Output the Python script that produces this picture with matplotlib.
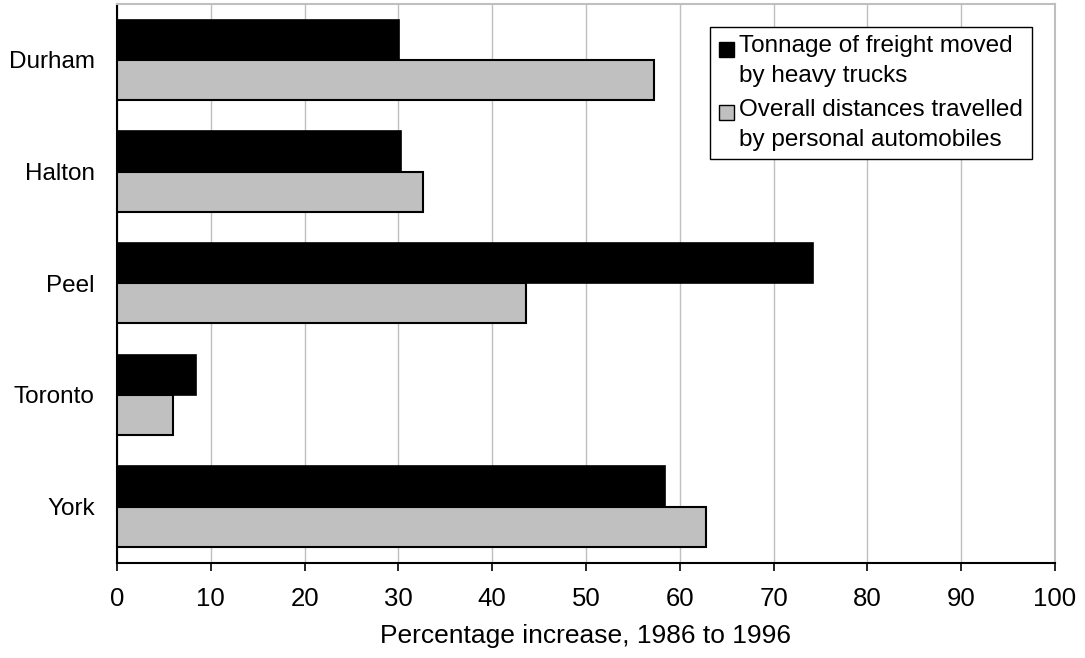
import matplotlib
matplotlib.use("Agg")
import matplotlib.pyplot as plt
from matplotlib.patches import Rectangle
from matplotlib.legend_handler import HandlerBase
import numpy as np

regions = ["Durham", "Halton", "Peel", "Toronto", "York"]
freight = [30.1, 30.3, 74.2, 8.4, 58.4]
autos = [57.3, 32.6, 43.6, 6.0, 62.8]
series_labels = ["Tonnage of freight moved\nby heavy trucks",
                 "Overall distances travelled\nby personal automobiles"]
xticks = [0, 10, 20, 30, 40, 50, 60, 70, 80, 90, 100]
xlabel = "Percentage increase, 1986 to 1996"

plt.rcParams['font.family'] = ['Liberation Sans', 'DejaVu Sans']


class TopSquareHandler(HandlerBase):
    """Legend key: small square aligned with the first text line."""
    def legend_artist(self, legend, orig_handle, fontsize, handlebox):
        size = 0.62 * fontsize
        x0 = -handlebox.xdescent
        y0 = handlebox.height - handlebox.ydescent - size - 0.05 * fontsize
        r = Rectangle((x0, y0), size, size,
                      facecolor=orig_handle.get_facecolor(),
                      edgecolor='black', linewidth=1.0,
                      transform=handlebox.get_transform())
        handlebox.add_artist(r)
        return r


fig = plt.figure(figsize=(10.85, 6.58), dpi=100)
ax = fig.add_axes([117/1085, 1 - 562.5/658, (1055-117)/1085, (562.5-4)/658])

y = np.arange(len(regions))
h = 0.36
b1 = ax.barh(y - h/2, freight, height=h, color='black', edgecolor='black',
             linewidth=1.2, label=series_labels[0], zorder=3)
b2 = ax.barh(y + h/2, autos, height=h, color='#C0C0C0', edgecolor='black',
             linewidth=1.5, label=series_labels[1], zorder=3)

ax.set_ylim(len(regions) - 0.5, -0.5)
ax.set_xlim(0, 100)
ax.set_yticks(y)
ax.set_yticklabels(regions, fontsize=17.5)
ax.tick_params(axis='y', length=0, pad=16)
ax.set_xticks(xticks)
ax.set_xticklabels([str(t) for t in xticks], fontsize=18.5)
ax.tick_params(axis='x', length=6, width=1.2, direction='out', pad=12, color='black')
ax.set_xlabel(xlabel, fontsize=19, labelpad=9)

ax.grid(axis='x', color='#BFBFBF', linewidth=1.0, zorder=0)
ax.set_axisbelow(True)
for s in ['top', 'right']:
    ax.spines[s].set_color('#BFBFBF')
    ax.spines[s].set_linewidth(1.5)
for s in ['left', 'bottom']:
    ax.spines[s].set_color('black')
    ax.spines[s].set_linewidth(1.5)

handles = [b1.patches[0], b2.patches[0]]
leg = ax.legend(handles, series_labels,
                handler_map={type(b1.patches[0]): TopSquareHandler()},
                loc='upper right', bbox_to_anchor=(0.975, 0.959),
                borderaxespad=0, fontsize=17.5, frameon=True, fancybox=False,
                edgecolor='black', framealpha=1, handlelength=0.65,
                handleheight=2.4, handletextpad=0.2, labelspacing=0.5,
                borderpad=0.35)
leg.get_frame().set_linewidth(1.0)
for t in leg.get_texts():
    t.set_linespacing(1.45)

fig.savefig("out.png", dpi=100)
